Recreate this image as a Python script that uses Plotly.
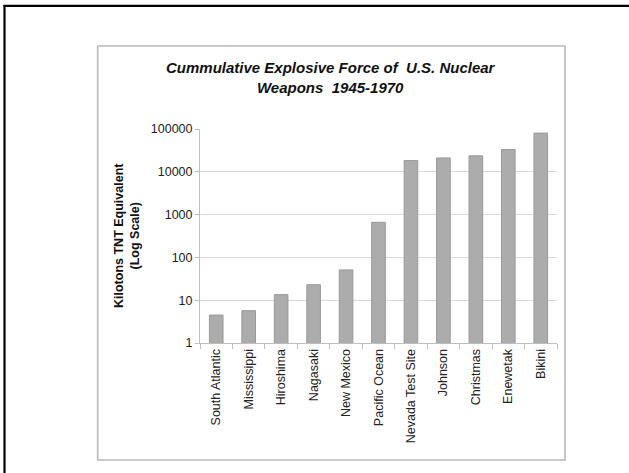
import plotly.graph_objects as go

categories = ["South Atlantic", "Mississippi", "Hiroshima", "Nagasaki", "New Mexico",
              "Pacific Ocean", "Nevada Test Site", "Johnson", "Christmas", "Enewetak", "Bikini"]
kilotons = [4.5, 5.7, 13.5, 23, 51, 660, 18300, 21100, 23600, 33100, 80200]
ytick_vals = [1, 10, 100, 1000, 10000, 100000]
ytick_text = ["1", "10", "100", "1000", "10000", "100000"]

W, H = 629, 473
L, R, T, B = 200, 557, 129, 343  # plot area in pixels

def px(x):
    return (x - L) / (R - L)

def py(y):
    return (B - y) / (B - T)

FONT = "Liberation Sans, Arial, sans-serif"

fig = go.Figure(go.Bar(
    x=categories, y=kilotons, width=0.42,
    marker=dict(color="#acacac", line=dict(color="#999999", width=1)),
))

fig.update_layout(
    width=W, height=H,
    margin=dict(l=L, r=W - R, t=T, b=H - B, pad=0),
    paper_bgcolor="white", plot_bgcolor="white",
    showlegend=False,
    font=dict(family=FONT, size=12.5, color="#222222"),
    bargap=0.58,
)

fig.update_yaxes(
    type="log", range=[0, 5],
    tickvals=ytick_vals, ticktext=ytick_text,
    showgrid=True, gridcolor="#d9d9d9", gridwidth=1,
    showline=True, linecolor="#bfbfbf", linewidth=1,
    ticks="outside", ticklen=4, tickcolor="#bfbfbf",
    tickfont=dict(size=12.5, color="#222222"),
    zeroline=False,
)
fig.update_xaxes(
    showline=True, linecolor="#bfbfbf", linewidth=1,
    ticks="outside", ticklen=5, tickcolor="#bfbfbf", tickson="boundaries",
    tickangle=-90, tickfont=dict(size=12.5, color="#222222"),
    showgrid=False,
)

# chart area box and outer frame
fig.add_shape(type="rect", xref="paper", yref="paper",
              x0=px(97.7), x1=px(565), y0=py(460), y1=py(46),
              line=dict(color="#b8b8b8", width=1.6), layer="below")
fig.add_shape(type="line", xref="paper", yref="paper",
              x0=px(3.5), x1=px(640), y0=py(5.8), y1=py(5.8),
              line=dict(color="black", width=2.2))
fig.add_shape(type="line", xref="paper", yref="paper",
              x0=px(4.5), x1=px(4.5), y0=py(5), y1=py(480),
              line=dict(color="black", width=2.2))

fig.add_annotation(
    text="<b><i>Cummulative Explosive Force of\u00a0 U.S. Nuclear<br>Weapons\u00a0 1945-1970</i></b>",
    xref="paper", yref="paper", x=px(331), y=py(77),
    xanchor="center", yanchor="middle", showarrow=False,
    font=dict(family=FONT, size=15, color="#111111"),
)
fig.add_annotation(
    text="<b>Kilotons TNT Equivalent<br>(Log Scale)</b>",
    xref="paper", yref="paper", x=px(127), y=0.5, textangle=-90,
    xanchor="center", yanchor="middle", showarrow=False,
    font=dict(family=FONT, size=12.5, color="#111111"),
)

fig.write_html("out.html", config={"displayModeBar": False},
               post_script="document.body.style.margin='0';document.body.style.padding='0';")
